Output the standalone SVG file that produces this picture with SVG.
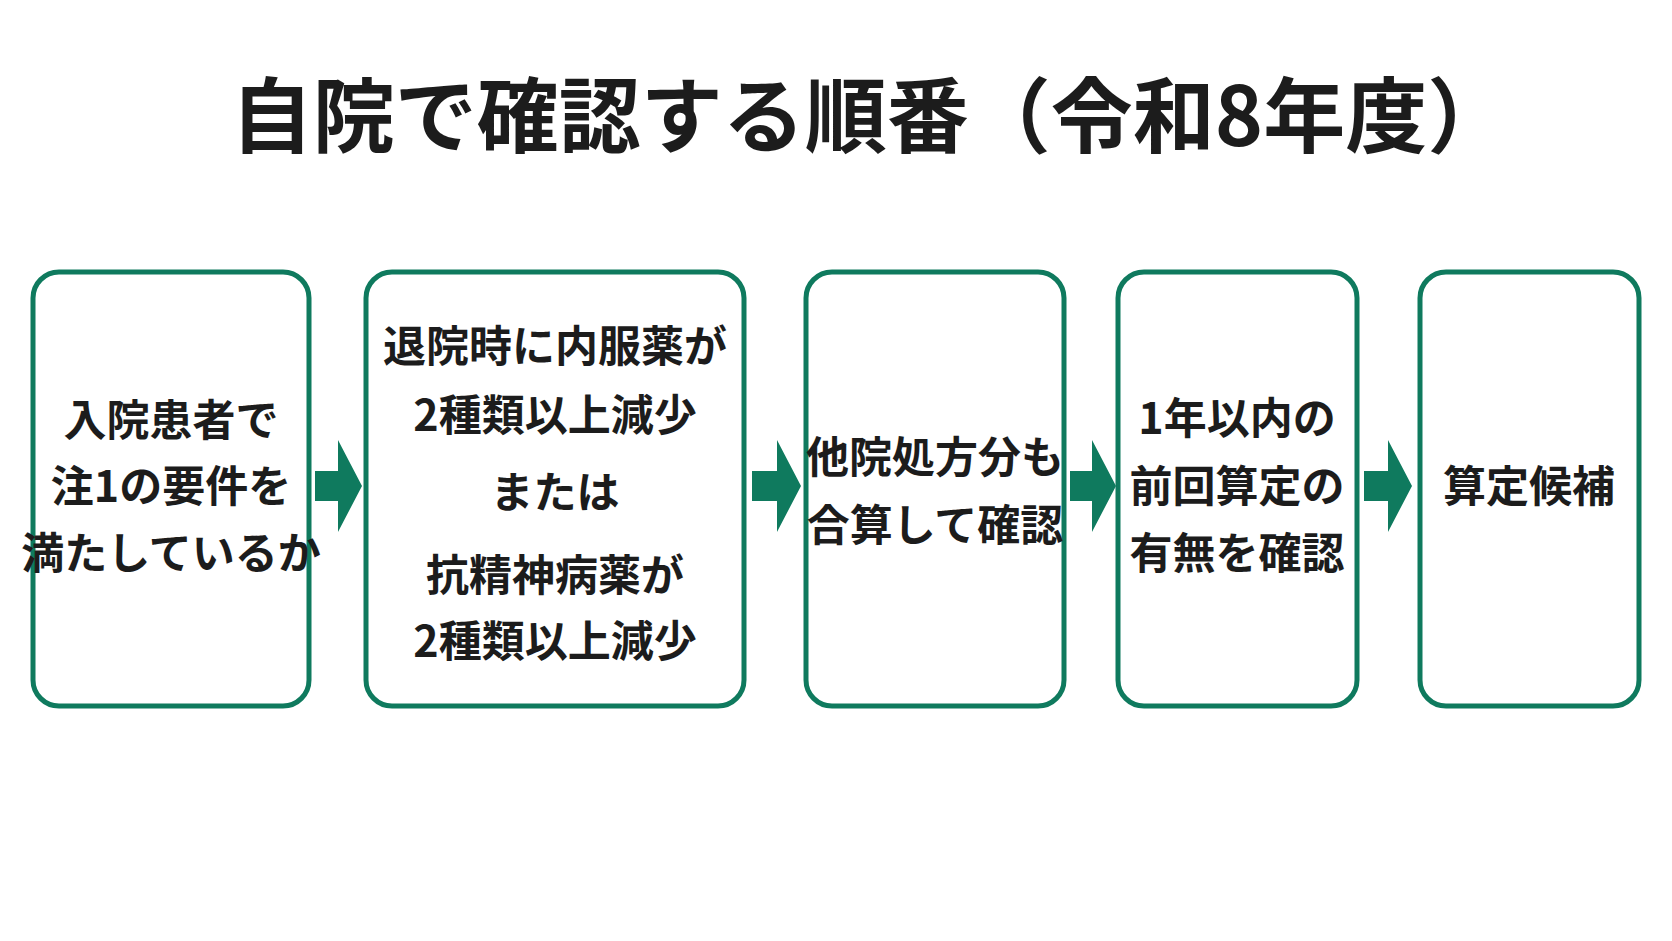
<svg xmlns="http://www.w3.org/2000/svg" width="1672" height="941" viewBox="0 0 1672 941">
<style>
.box{fill:#fff;stroke:#0f7a5e;stroke-width:5}
.t{font-family:"Noto Sans CJK JP","Noto Sans",sans-serif;font-weight:700;font-size:43px;fill:#1c1c1c;text-anchor:middle}
.arr{fill:#0f7a5e}
</style>
<rect width="1672" height="941" fill="#fff"/>
<text x="870" y="146" style="font-family:'Noto Sans CJK JP','Noto Sans',sans-serif;font-weight:700;font-size:82px;fill:#1c1c1c;text-anchor:middle">自院で確認する順番（令和8年度）</text>
<g id="connectors">
<path class="arr" d="M315 471h23v-31l24 46-24 46v-31h-23z"/>
<path class="arr" d="M752 471h25v-31l24 46-24 46v-31h-25z"/>
<path class="arr" d="M1070 471h22v-31l24 46-24 46v-31h-22z"/>
<path class="arr" d="M1364 471h24v-31l24 46-24 46v-31h-24z"/>
</g>
<g id="n1"><rect class="box" x="33" y="272" width="276" height="434" rx="26"/>
<text class="t" x="171" y="436">入院患者で</text><text class="t" x="171" y="502">注1の要件を</text><text class="t" x="171" y="569">満たしているか</text></g>
<g id="n2"><rect class="box" x="366" y="272" width="378" height="434" rx="26"/>
<text class="t" x="555" y="362">退院時に内服薬が</text><text class="t" x="555" y="431">2種類以上減少</text><text class="t" x="555" y="508">または</text><text class="t" x="555" y="591">抗精神病薬が</text><text class="t" x="555" y="657">2種類以上減少</text></g>
<g id="n3"><rect class="box" x="806" y="272" width="258" height="434" rx="26"/>
<text class="t" x="935" y="473">他院処方分も</text><text class="t" x="935" y="541">合算して確認</text></g>
<g id="n4"><rect class="box" x="1118" y="272" width="239" height="434" rx="26"/>
<text class="t" x="1237" y="434">1年以内の</text><text class="t" x="1237" y="502">前回算定の</text><text class="t" x="1237" y="569">有無を確認</text></g>
<g id="n5"><rect class="box" x="1420" y="272" width="219" height="434" rx="26"/>
<text class="t" x="1529" y="502">算定候補</text></g>
</svg>
